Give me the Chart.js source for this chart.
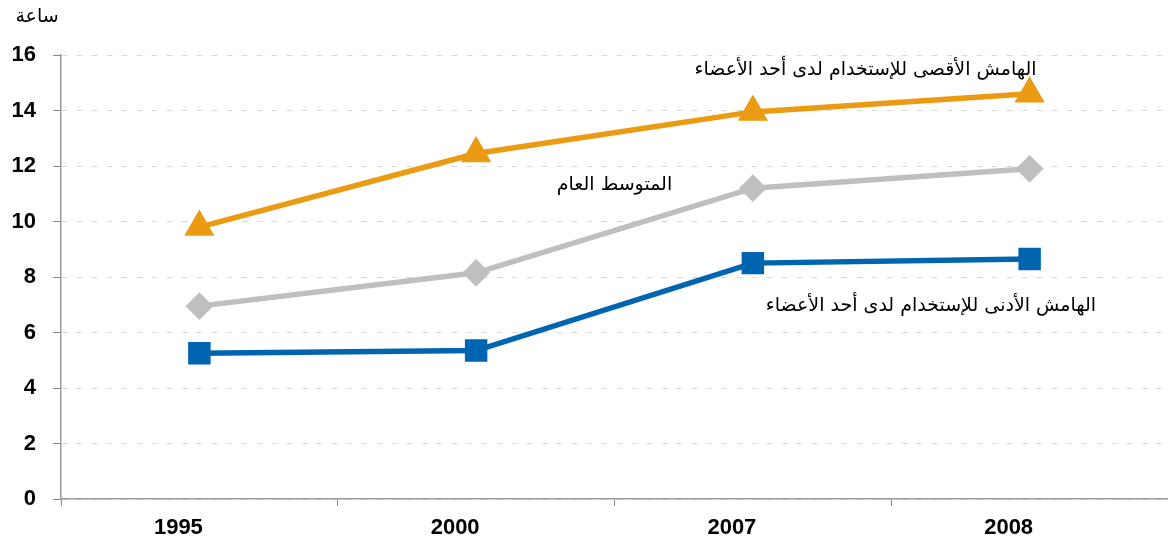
<!DOCTYPE html>
<html>
<head>
<meta charset="utf-8">
<script src="https://cdn.jsdelivr.net/npm/chart.js@4.4.1/dist/chart.umd.min.js"></script>
<style>
  body { margin: 0; background: #fff; }
  #wrap { width: 1168px; height: 542px; position: relative; }
</style>
</head>
<body>
<div id="wrap"><canvas id="myChart"></canvas></div>
<script>
// data
let years = ['1995', '2000', '2007', '2008'];
let maxValues = [9.8, 12.45, 13.95, 14.6];
let avgValues = [6.95, 8.15, 11.2, 11.9];
let minValues = [5.25, 5.35, 8.5, 8.65];
let yTicks = [0, 2, 4, 6, 8, 10, 12, 14, 16];

let unitLabel = 'ساعة';
let maxLabel = 'الهامش الأقصى للإستخدام لدى أحد الأعضاء';
let avgLabel = 'المتوسط العام';
let minLabel = 'الهامش الأدنى للإستخدام لدى أحد الأعضاء';

// text labels placed in data coords: [x index, y value, text, align, extra x in categories]
let notes = [
  [3, 15.45, maxLabel, 'right', 0.025],
  [1.5, 11.3, avgLabel, 'center', 0.0],
  [3, 6.95, minLabel, 'right', 0.24]
];

// draws unit label and the series notes
const notesPlugin = {
  id: 'notes',
  afterDraw(chart) {
    const ctx = chart.ctx;
    const xs = chart.scales.x, ys = chart.scales.y;
    ctx.save();
    ctx.fillStyle = '#000';
    ctx.font = '19px "DejaVu Sans", sans-serif';
    ctx.textBaseline = 'middle';
    ctx.textAlign = 'center';
    ctx.fillText(unitLabel, 37, 17);
    notes.forEach(n => {
      let step = xs.getPixelForValue(1) - xs.getPixelForValue(0);
      let px = xs.getPixelForValue(Math.floor(n[0])) + (n[0] % 1) * step + n[4] * step;
      ctx.textAlign = n[3];
      ctx.fillText(n[2], px, ys.getPixelForValue(n[1]));
    });
    ctx.restore();
  }
};

var ctx = document.getElementById('myChart');
let myChart = new Chart(ctx, {
  type: 'line',
  data: {
    labels: years,
    datasets: [
      {
        label: maxLabel,
        data: maxValues,
        borderColor: '#EA9B12',
        backgroundColor: '#EA9B12',
        borderWidth: 5.5,
        pointStyle: 'triangle',
        pointRadius: 12,
        pointHoverRadius: 12
      },
      {
        label: avgLabel,
        data: avgValues,
        borderColor: '#BFBFBF',
        backgroundColor: '#BFBFBF',
        borderWidth: 5.5,
        pointStyle: 'rectRot',
        pointRadius: 10,
        pointHoverRadius: 10
      },
      {
        label: minLabel,
        data: minValues,
        borderColor: '#0065B1',
        backgroundColor: '#0065B1',
        borderWidth: 5.5,
        pointStyle: 'rect',
        pointRadius: 12,
        pointHoverRadius: 12
      }
    ]
  },
  options: {
    responsive: true,
    maintainAspectRatio: false,
    animation: false,
    layout: { autoPadding: false, padding: { top: 55, left: 0, right: 0, bottom: 0 } },
    plugins: {
      legend: { display: false },
      tooltip: { enabled: false }
    },
    scales: {
      x: {
        offset: true,
        grid: {
          offset: true,
          drawOnChartArea: false,
          tickLength: 7,
          tickColor: '#888'
        },
        border: { color: '#999', width: 1.5 },
        ticks: {
          color: '#000',
          font: { family: '"Liberation Sans", Arial, sans-serif', size: 22, weight: 'bold' },
          labelOffset: -21,
          padding: 9
        },
        afterFit(scale) {
          scale.height = 43;
          scale.paddingLeft = 0;
          scale.paddingRight = 0;
        }
      },
      y: {
        min: 0,
        max: 16,
        afterBuildTicks(scale) { scale.ticks = yTicks.map(v => ({ value: v })); },
        grid: {
          color: '#D9D9D9',
          lineWidth: 1,
          tickLength: 8,
          tickColor: '#888',
          tickBorderDash: []
        },
        border: { color: '#999', width: 1.5, dash: [6, 9] },
        ticks: {
          color: '#000',
          font: { family: '"Liberation Sans", Arial, sans-serif', size: 22, weight: 'bold' },
          padding: 17
        },
        afterFit(scale) {
          scale.width = 61;
          scale.paddingTop = 0;
          scale.paddingBottom = 0;
        }
      }
    }
  },
  plugins: [notesPlugin]
});
</script>
</body>
</html>
